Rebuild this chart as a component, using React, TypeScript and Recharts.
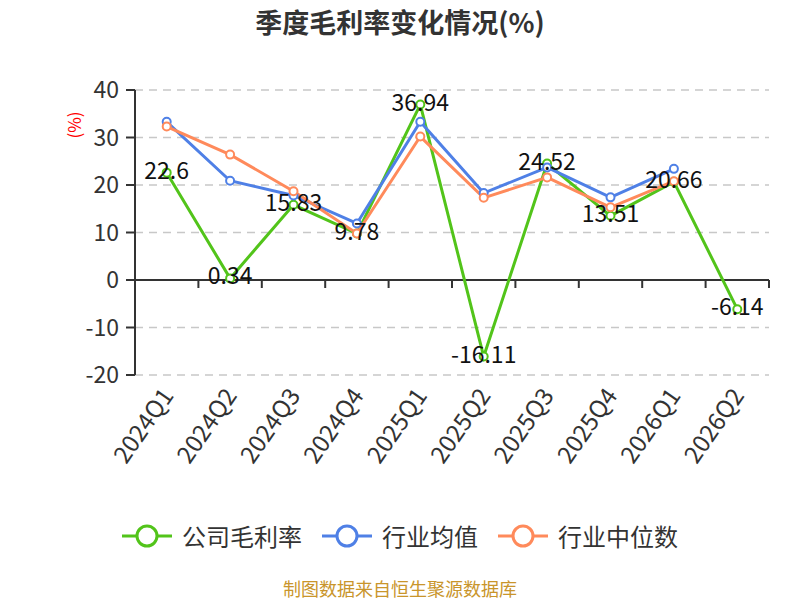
import { LineChart, Line, XAxis, YAxis, CartesianGrid, ReferenceLine, LabelList } from 'recharts';

const quarters = ['2024Q1', '2024Q2', '2024Q3', '2024Q4', '2025Q1', '2025Q2', '2025Q3', '2025Q4', '2026Q1', '2026Q2'];
const companyMargin = [22.6, 0.34, 15.83, 9.78, 36.94, -16.11, 24.52, 13.51, 20.66, -6.14];
const industryAvg = [33.3, 20.9, 17.8, 11.9, 33.3, 18.3, 23.7, 17.4, 23.4, null];
const industryMedian = [32.3, 26.4, 18.7, 9.8, 30.2, 17.3, 21.6, 15.3, 20.8, null];
const yTicks = [-20, -10, 0, 10, 20, 30, 40];

const seriesNames = ['公司毛利率', '行业均值', '行业中位数'];
const seriesColors = ['#52c41a', '#4f80e6', '#ff8a5b'];

const FONT = '"Noto Sans CJK SC", "Noto Sans", sans-serif';

const data = quarters.map((q, i) => ({
    quarter: q,
    company: companyMargin[i],
    avg: industryAvg[i],
    median: industryMedian[i],
}));

// x axis drawn at y=0 with tick marks between categories
const ZeroAxis = (props: any) => {
    const { x1, y1, x2, y2 } = props;
    const step = (x2 - x1) / quarters.length;
    return (
        <g>
            <line x1={x1} y1={y1} x2={x2} y2={y2} stroke="#333" strokeWidth={2} />
            {quarters.map((_, i) => (
                <line key={i} x1={x1 + step * (i + 1)} y1={y1} x2={x1 + step * (i + 1)} y2={y1 + 8} stroke="#333" strokeWidth={2} />
            ))}
        </g>
    );
};

const XTick = (props: any) => {
    const { x, y, payload } = props;
    const ax = x + 1;
    const ay = y + 8;
    return (
        <text
            x={ax}
            y={ay}
            dy="0.35em"
            textAnchor="end"
            transform={`rotate(-55, ${ax}, ${ay})`}
            fontSize={24}
            fill="#333"
            fontFamily={FONT}
        >
            {payload.value}
        </text>
    );
};

const ValueLabel = (props: any) => {
    const { x, y, value } = props;
    return (
        <text x={x} y={y - 2} dy="0.35em" textAnchor="middle" fontSize={23} fill="#111" fontFamily={FONT}>
            {value}
        </text>
    );
};

function LegendItem({ name, color }: { name: string; color: string }) {
    return (
        <div style={{ display: 'flex', alignItems: 'center' }}>
            <svg width={50} height={26}>
                <line x1={0} y1={13} x2={50} y2={13} stroke={color} strokeWidth={3} />
                <circle cx={25} cy={13} r={10} fill="#fff" stroke={color} strokeWidth={3} />
            </svg>
            <span style={{ marginLeft: 10, fontSize: 24, color: '#333' }}>{name}</span>
        </div>
    );
}

export default function App() {
    return (
        <div style={{ position: 'absolute', left: 0, top: 0, width: 800, height: 600, background: '#fff', fontFamily: FONT }}>
            <div style={{ position: 'absolute', top: 2, left: 0, width: 800, textAlign: 'center', fontSize: 27, fontWeight: 'bold', color: '#333' }}>
                季度毛利率变化情况(%)
            </div>
            <div style={{ position: 'absolute', left: 73, top: 125, transform: 'translate(-50%, -50%) rotate(-90deg)', fontSize: 17, color: '#ff0000', whiteSpace: 'nowrap' }}>
                (%)
            </div>
            <LineChart width={800} height={600} data={data} margin={{ top: 90, right: 31, bottom: 165, left: 55 }}>
                <CartesianGrid vertical={false} stroke="#c8c8c8" strokeDasharray="8 6" strokeWidth={1.3} />
                <XAxis
                    dataKey="quarter"
                    scale="band"
                    height={60}
                    axisLine={false}
                    tickLine={false}
                    tick={<XTick />}
                    interval={0}
                />
                <YAxis
                    width={80}
                    domain={[-20, 40]}
                    ticks={yTicks}
                    axisLine={{ stroke: '#333', strokeWidth: 2 }}
                    tickLine={{ stroke: '#333', strokeWidth: 2 }}
                    tickSize={9}
                    tickMargin={7}
                    tick={{ fontSize: 23, fill: '#333', fontFamily: FONT }}
                />
                <ReferenceLine y={0} shape={<ZeroAxis />} />
                <Line
                    dataKey="company"
                    stroke={seriesColors[0]}
                    strokeWidth={3}
                    dot={{ r: 4, fill: '#fff', stroke: seriesColors[0], strokeWidth: 2 }}
                    isAnimationActive={false}
                >
                    <LabelList dataKey="company" content={<ValueLabel />} />
                </Line>
                <Line
                    dataKey="avg"
                    stroke={seriesColors[1]}
                    strokeWidth={3}
                    dot={{ r: 4, fill: '#fff', stroke: seriesColors[1], strokeWidth: 2 }}
                    isAnimationActive={false}
                />
                <Line
                    dataKey="median"
                    stroke={seriesColors[2]}
                    strokeWidth={3}
                    dot={{ r: 4, fill: '#fff', stroke: seriesColors[2], strokeWidth: 2 }}
                    isAnimationActive={false}
                />
            </LineChart>
            <div style={{ position: 'absolute', top: 518, left: 0, width: 800, display: 'flex', justifyContent: 'center', gap: 20 }}>
                {seriesNames.map((n, i) => (
                    <LegendItem key={n} name={n} color={seriesColors[i]} />
                ))}
            </div>
            <div style={{ position: 'absolute', top: 578, left: 0, width: 800, textAlign: 'center', fontSize: 18, lineHeight: '20px', color: '#c9952b' }}>
                制图数据来自恒生聚源数据库
            </div>
        </div>
    );
}
